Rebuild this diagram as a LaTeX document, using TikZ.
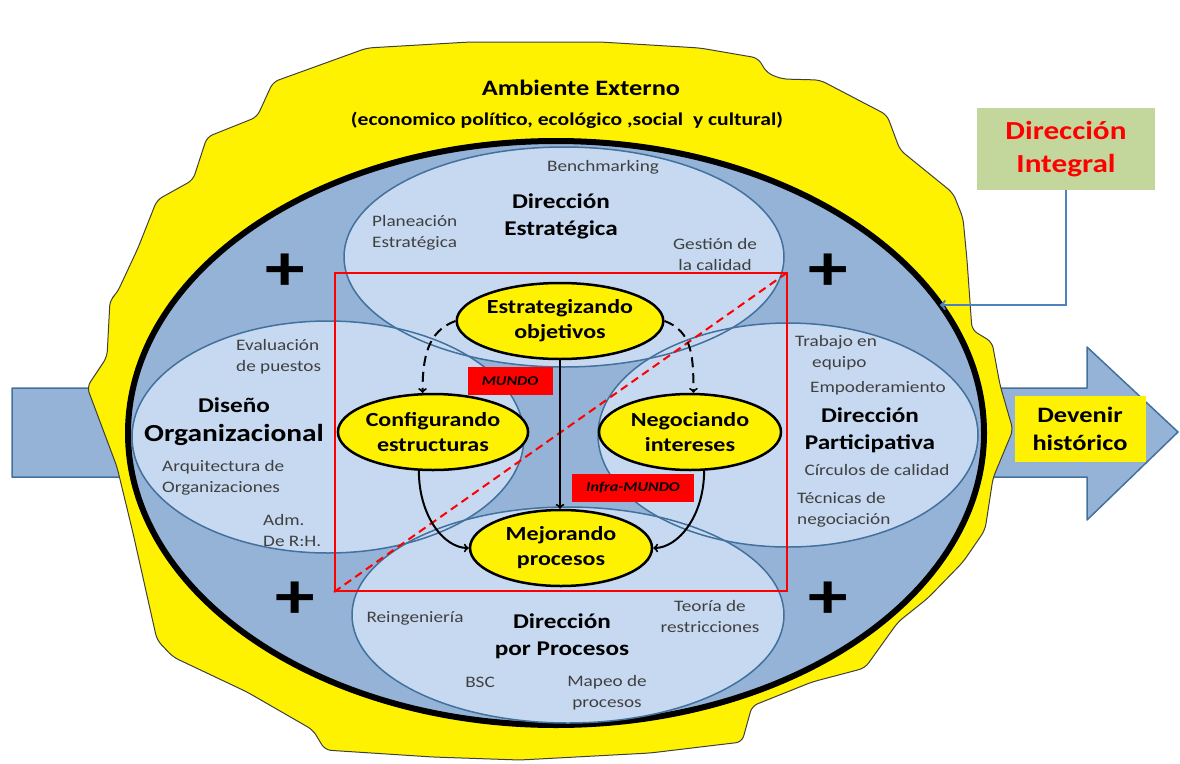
\documentclass[tikz,border=0pt]{standalone}
\usepackage{fontspec}
\setmainfont{Carlito}[FakeStretch=1.2]
\usetikzlibrary{shapes.geometric}
\definecolor{midblue}{HTML}{95B3D7}
\definecolor{paleblue}{HTML}{C6D9F1}
\definecolor{rimblue}{HTML}{41719C}
\definecolor{linkblue}{HTML}{4F81BD}
\definecolor{olive}{HTML}{C3D69B}
\definecolor{txtgray}{HTML}{404040}
\def\regions{564/257/440/220/strat, 328/437/392/232/orga, 788/435/380/224/part, 568/615/432/216/proc}

\begin{document}
\begin{tikzpicture}[x=1pt,y=-1pt]
    \tikzstyle{region}=[fill=paleblue,shape=ellipse,inner sep=0pt]
    \tikzstyle{rim}=[draw=rimblue,line width=1.5pt,shape=ellipse,inner sep=0pt]
    \tikzstyle{goal}=[draw,line width=2.5pt,fill=yellow,shape=ellipse,inner sep=0pt,minimum width=182pt,minimum height=76pt,align=center,font=\fontsize{20}{25}\selectfont\bfseries]
    \tikzstyle{tool}=[inner sep=0pt,text=txtgray,font=\fontsize{16}{21}\selectfont]
    \tikzstyle{head}=[inner sep=0pt,align=center,font=\fontsize{21}{27}\selectfont\bfseries]
    \tikzstyle{tag}=[fill=red,inner sep=0pt,minimum height=28pt,font=\fontsize{13.5}{15}\selectfont\bfseries\itshape]
    \tikzstyle{plus}=[inner sep=0pt,font=\fontsize{66}{66}\selectfont\bfseries]
    \tikzstyle{flow}=[->,line width=2pt]

    \useasboundingbox (0,0) rectangle (1180,763);

    \path[draw=rimblue,fill=midblue,line width=1.5pt,line join=round] (12,388) -- (1087,388) -- (1087,347) -- (1178,432) -- (1087,520) -- (1087,477) -- (12,477) -- cycle;

    \path[draw=txtgray,fill=yellow,line width=1pt,rounded corners=6pt] (367,48) -- (470,42) -- (600,42) -- (700,48) -- (758,58) -- (767,73) -- (782,79) -- (820,80) -- (887,115) -- (900,150) -- (953,193) -- (963,218) -- (967,260) -- (972,330) -- (992,342) -- (1000,385) -- (1013,430) -- (993,478) -- (985,530) -- (963,562) -- (928,598) -- (898,622) -- (865,668) -- (812,682) -- (752,706) -- (742,742) -- (650,753) -- (520,760) -- (433,757) -- (325,750) -- (313,730) -- (247,692) -- (173,657) -- (157,640) -- (133,533) -- (117,467) -- (87,387) -- (107,357) -- (110,300) -- (117,293) -- (138,248) -- (157,200) -- (193,180) -- (207,137) -- (257,117) -- (273,82) -- cycle;

    \node at (581,88) (amb) [inner sep=0pt,font=\fontsize{22}{26}\selectfont\bfseries] {Ambiente Externo};
    \node at (567,120) (amb-sub) [inner sep=0pt,font=\fontsize{18}{22}\selectfont\bfseries] {(economico político, ecológico ,social \ y cultural)};

    \node at (556,433) (world) [shape=ellipse,draw,line width=6pt,fill=midblue,inner sep=0pt,minimum width=856pt,minimum height=584pt] {};

    \foreach \x/\y/\w/\h/\n in \regions
        \node at (\x,\y) (\n) [region,minimum width=\w pt,minimum height=\h pt] {};
    \foreach \x/\y/\w/\h/\n in \regions
        \node at (\x,\y) (\n-rim) [rim,minimum width=\w pt,minimum height=\h pt] {};

    \foreach \x/\y/\n in {285/272/nw, 828/272/ne, 295/600/sw, 828/600/se}
        \node at (\x,\y) (plus-\n) [plus] {+};

    \node at (603,167) (bench) [tool] {Benchmarking};
    \node at (372,233) (plan) [tool,anchor=west,align=left] {Planeación\\Estratégica};
    \node at (561,216) (strat-t) [head] {Dirección\\Estratégica};
    \node at (715,254) (gest) [tool,align=center] {Gestión de\\la calidad};

    \node at (236,357) (eval) [tool,anchor=west,align=left] {Evaluación\\de puestos};
    \node at (234,422) (orga-t) [head,font=\fontsize{24.5}{29}\selectfont\bfseries] {{\fontsize{21}{29}\selectfont Diseño}\\Organizacional};
    \node at (162,478) (arq) [tool,anchor=west,align=left] {Arquitectura de\\Organizaciones};
    \node at (263,530) (adm) [tool,anchor=west,align=left] {Adm.\\De R:H.};

    \node at (795,353) (trab) [tool,anchor=west,align=left] {Trabajo en\\\hspace*{17pt}equipo};
    \node at (878,388) (empo) [tool] {Empoderamiento};
    \node at (870,430) (part-t) [head] {Dirección\\Participativa};
    \node at (877,470) (circ) [tool] {Círculos de calidad};
    \node at (797,510) (tecn) [tool,anchor=west,align=left] {Técnicas de\\negociación};

    \node at (415,618) (reing) [tool] {Reingeniería};
    \node at (562,636) (proc-t) [head] {Dirección\\por Procesos};
    \node at (710,616) (teor) [tool,align=center] {Teoría de\\restricciones};
    \node at (480,682) (bsc) [tool] {BSC};
    \node at (607,693) (mapeo) [tool,align=center] {Mapeo de\\procesos};

    \node at (561,432) (frame) [draw=red,line width=2pt,inner sep=0pt,minimum width=452pt,minimum height=318pt] {};
    \draw[red,line width=2pt,dash pattern=on 8pt off 5pt] (frame.south west) -- (frame.north east);

    \node at (560,321) (estr) [goal] {Estrategizando\\objetivos};
    \node at (433,432) (conf) [goal] {Configurando\\estructuras};
    \node at (690,432) (nego) [goal] {Negociando\\intereses};
    \node at (561,548) (mejo) [goal] {Mejorando\\procesos};

    \node at (510,381) (mundo) [tag,minimum width=85pt] {MUNDO};
    \node at (633,488) (infra) [tag,minimum width=122pt] {Infra-MUNDO};

    \draw[flow] (estr.south) -- (estr.south |- mejo.north);
    \draw[flow,dash pattern=on 10pt off 6pt] (estr.west) .. controls +(200:30pt) and +(90:35pt) .. (conf.105);
    \draw[flow,dash pattern=on 10pt off 6pt] (estr.east) .. controls +(-20:30pt) and +(90:35pt) .. (nego.85);
    \draw[flow] (conf.250) .. controls +(270:45pt) and +(180:25pt) .. (mejo.west);
    \draw[flow] (nego.290) .. controls +(270:45pt) and +(0:25pt) .. (mejo.east);

    \node at (1066,149) (integral) [fill=olive,inner sep=0pt,minimum width=178pt,minimum height=82pt,align=center,text=red,font=\fontsize{26}{33}\selectfont\bfseries] {Dirección\\Integral};
    \coordinate (hit) at (940,305);
    \draw[->,linkblue,line width=2.5pt] (integral.south) |- (hit);

    \node at (1080,429) (devenir) [fill=yellow,inner sep=0pt,minimum width=131pt,minimum height=66pt,align=center,font=\fontsize{22}{28}\selectfont\bfseries] {Devenir\\histórico};
\end{tikzpicture}
\end{document}
